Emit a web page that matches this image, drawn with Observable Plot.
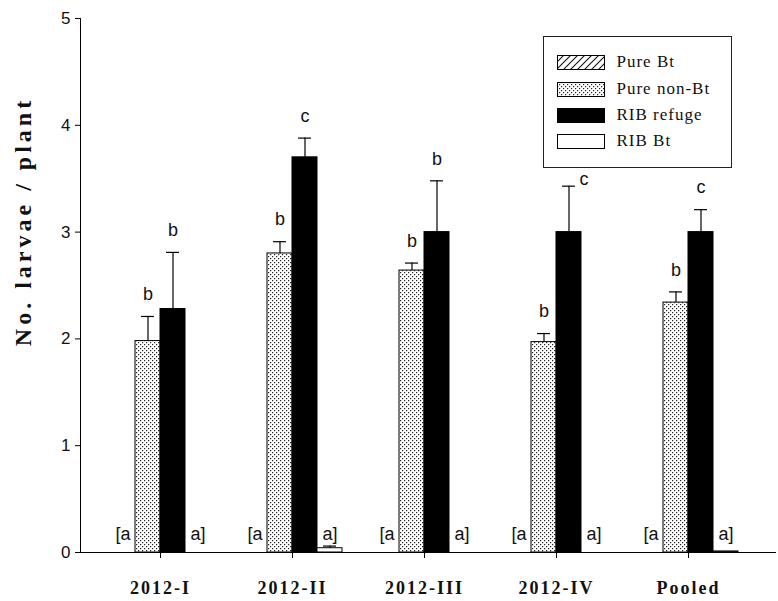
<!DOCTYPE html>
<html><head><meta charset="utf-8">
<script src="https://cdn.jsdelivr.net/npm/d3@7"></script>
<script src="https://cdn.jsdelivr.net/npm/@observablehq/plot@0.6"></script>
<style>
html,body{margin:0;padding:0;background:#fff;overflow:hidden}
#wrap{position:relative;width:778px;height:601px}
#legend{position:absolute;left:543px;top:36px;width:189px;height:132px;border:1.5px solid #222;box-sizing:border-box;background:#fff;font-family:"Liberation Serif","Times New Roman",serif;font-size:17px;letter-spacing:1px;color:#111}
.row{position:absolute;left:12.5px;height:15px;display:flex;align-items:center;white-space:nowrap}
.row svg{display:block;margin-right:12px;flex:none}
</style></head><body>
<svg width="0" height="0" style="position:absolute">
<defs>
<pattern id="dots" patternUnits="userSpaceOnUse" width="4" height="4">
<rect width="4" height="4" fill="#fff"/>
<rect x="0" y="0" width="1.2" height="1.2" fill="#222"/>
<rect x="2" y="2" width="1.2" height="1.2" fill="#222"/>
</pattern>
<pattern id="hatch" patternUnits="userSpaceOnUse" width="7" height="7">
<rect width="7" height="7" fill="#fff"/>
<path d="M0,7 L7,0 M-2,2 L2,-2 M5,9 L9,5" stroke="#111" stroke-width="1.1"/>
</pattern>
</defs></svg>
<div id="wrap"></div>
<script>
// ---- data ----
const groups = ["2012-I", "2012-II", "2012-III", "2012-IV", "Pooled"];
const seriesNames = ["Pure Bt", "Pure non-Bt", "RIB refuge", "RIB Bt"];
const pureBt = [0, 0, 0, 0, 0];
const pureBtSE = [0, 0, 0, 0, 0];
const pureNonBt = [1.98, 2.80, 2.64, 1.97, 2.34];
const pureNonBtSE = [0.23, 0.11, 0.07, 0.08, 0.10];
const ribRefuge = [2.28, 3.70, 3.00, 3.00, 3.00];
const ribRefugeSE = [0.53, 0.18, 0.48, 0.43, 0.21];
const ribBt = [0, 0.04, 0, 0, 0.01];
const ribBtSE = [0, 0.02, 0, 0, 0];
const pureBtLetters = ["[a", "[a", "[a", "[a", "[a"];
const pureNonBtLetters = ["b", "b", "b", "b", "b"];
const ribRefugeLetters = ["b", "c", "b", "c", "c"];
const ribBtLetters = ["a]", "a]", "a]", "a]", "a]"];
const yTicks = [0, 1, 2, 3, 4, 5];

const seriesValues = [pureBt, pureNonBt, ribRefuge, ribBt];
const seriesSE = [pureBtSE, pureNonBtSE, ribRefugeSE, ribBtSE];
const seriesLetters = [pureBtLetters, pureNonBtLetters, ribRefugeLetters, ribBtLetters];
const fills = ["url(#hatch)", "url(#dots)", "#000", "#fff"];

const rows = [];
seriesNames.forEach((s, k) => groups.forEach((g, i) => rows.push({
  group: g, series: s, k, value: seriesValues[k][i], se: seriesSE[k][i], letter: seriesLetters[k][i]
})));

const letterFont = {fontSize: 18, fontFamily: "Liberation Sans, Arial, sans-serif", fill: "#111"};
// the 2012-IV refuge letter sits beside its cap (under the legend box otherwise)
const besideCap = d => d.k === 2 && d.group === "2012-IV";

// bar geometry inside each 100px band: 4 bars of 25px
const marks = [];
seriesNames.forEach((s, k) => {
  const data = rows.filter(d => d.k === k);
  const offset = -37.5 + 25 * k;
  marks.push(Plot.barY(data, {x: "group", y: "value", fill: fills[k], stroke: "#000", strokeWidth: 1,
    insetLeft: 25 * k, insetRight: 75 - 25 * k}));
  const withErr = data.filter(d => d.se > 0);
  marks.push(Plot.ruleX(withErr, {x: "group", y1: "value", y2: d => d.value + d.se, dx: offset, stroke: "#000", strokeWidth: 1.2}));
  marks.push(Plot.tickY(withErr, {x: "group", y: d => d.value + d.se, stroke: "#000", strokeWidth: 1.2,
    insetLeft: 6 + 25 * k, insetRight: 81 - 25 * k}));
  if (k === 1 || k === 2) {
    marks.push(Plot.text(data.filter(d => !besideCap(d)), {x: "group", y: d => d.value + d.se, text: "letter", dx: offset, dy: -22, ...letterFont}));
    marks.push(Plot.text(data.filter(besideCap), {x: "group", y: d => d.value + d.se, text: "letter", dx: offset + 15, dy: -7, ...letterFont}));
  } else {
    marks.push(Plot.text(data, {x: "group", y: 0, text: "letter", dx: offset, dy: -18, ...letterFont}));
  }
});
marks.push(Plot.text(["No. larvae / plant"], {frameAnchor: "left", textAnchor: "middle", dx: -57, dy: -64, rotate: -90,
  fontSize: 24, fontWeight: "bold", fontFamily: "Liberation Serif, serif", fill: "#111"}));

const chart = Plot.plot({
  width: 778, height: 601,
  marginLeft: 80, marginRight: 3, marginTop: 18, marginBottom: 49,
  style: {background: "#fff", color: "#000"},
  x: {type: "band", domain: groups, paddingInner: 0.2424, paddingOuter: 0.2537, align: 0.447,
      tickSize: 6, tickPadding: 23, line: true, label: null},
  y: {domain: [0, 5], ticks: yTicks, tickFormat: d3.format("d"), tickSize: 5, tickPadding: 5, line: true, label: null},
  marks
});
const svg = d3.select(chart);
svg.selectAll('g[aria-label="x-axis tick label"]').attr("font-family", "Liberation Serif, serif")
  .attr("font-size", 18).attr("font-weight", "bold").style("letter-spacing", "2px").attr("fill", "#111");
svg.selectAll('g[aria-label="y-axis tick label"]').attr("font-family", "Liberation Sans, Arial, sans-serif")
  .attr("font-size", 17).attr("fill", "#111");
svg.selectAll("text").filter(function () { return this.textContent === "No. larvae / plant"; })
  .style("letter-spacing", "4px");
document.getElementById("wrap").appendChild(chart);

// legend overlay
const legend = document.createElement("div");
legend.id = "legend";
const tops = [17.5, 44.5, 70.5, 96.5];
seriesNames.forEach((s, k) => {
  const row = document.createElement("div");
  row.className = "row";
  row.style.top = tops[k] + "px";
  row.innerHTML = `<svg width="48" height="15"><rect x="0.5" y="0.5" width="47" height="14" fill="${fills[k]}" stroke="#000" stroke-width="1"/></svg><span>${s}</span>`;
  legend.appendChild(row);
});
document.getElementById("wrap").appendChild(legend);
</script>
</body></html>
